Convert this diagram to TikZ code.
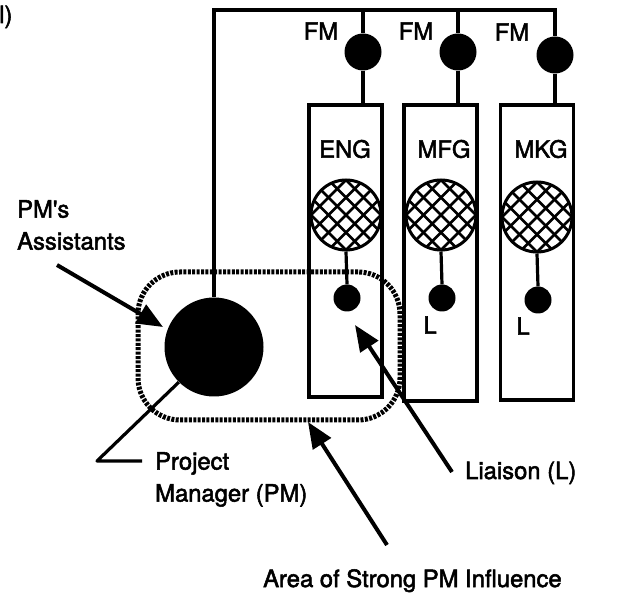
\documentclass[tikz,border=0pt]{standalone}
\usepackage{fontspec}
\setmainfont{TeX Gyre Heros}[FakeBold=2.2, Ligatures=TeXOff]
\usetikzlibrary{arrows.meta,calc}
\begin{document}
\begin{tikzpicture}[x=1pt,y=-1pt,
  lbl/.style={inner sep=0pt, font=\fontsize{23.8}{32}\selectfont},
  ln/.style={line width=3.2pt},
  arr/.style={line width=4pt, -{Triangle[length=26pt,width=21pt]}},
  dept/.style={draw, line width=3.4pt, minimum width=73pt, inner sep=0pt},
  fmdot/.style={circle, fill=black, minimum size=37pt, inner sep=0pt},
  ldot/.style={circle, fill=black, minimum size=27pt, inner sep=0pt},
  pmdot/.style={circle, fill=black, minimum size=99pt, inner sep=0pt},
  hatch/.style={circle, draw, line width=3pt, fill=white, minimum size=70pt, inner sep=0pt,
    path picture={
      \begin{scope}[shift={(path picture bounding box.center)}]
        \foreach \k in {-5,...,5}{
          \draw[line width=2.8pt] (\k*17.5-45,-45) -- ++(90,90);
          \draw[line width=2.8pt] (\k*17.5-45,45) -- ++(90,-90);
        }
      \end{scope}}},
  rope/.style={draw, line width=5pt, dash pattern=on 3pt off 1.4pt, rounded corners=42pt}
]
\useasboundingbox (0,0) rectangle (643,593);

% fragment at top left
\node[lbl, anchor=base west] (frag) at (-1,23) {l)};

% departments
\node[dept, minimum height=292pt] (box1) at (345.5,251) {};
\node[dept, minimum height=296pt] (box2) at (440.5,253) {};
\node[dept, minimum height=295pt] (box3) at (537,252.5) {};

\node[lbl] (eng) at (345,149) {ENG};
\node[lbl] (mfg) at (444,149) {MFG};
\node[lbl] (mkg) at (541,149) {MKG};

% functional managers
\node[fmdot] (fm1) at (363,52) {};
\node[fmdot] (fm2) at (458,52) {};
\node[fmdot] (fm3) at (555,55) {};
\node[lbl] (fml1) at (321,31) {FM};
\node[lbl] (fml2) at (416,31) {FM};
\node[lbl] (fml3) at (512,32) {FM};

% hatched staff circles
\node[hatch] (hc1) at (346,215) {};
\node[hatch] (hc2) at (441,215) {};
\node[hatch] (hc3) at (537,217) {};

% liaison dots
\node[ldot] (l1) at (347,298) {};
\node[ldot] (l2) at (442,298) {};
\node[ldot] (l3) at (538,300) {};
\node[lbl] (ll2) at (430,325) {L};
\node[lbl] (ll3) at (523,326) {L};

\draw[ln] (hc1.south) -- (l1.north);
\draw[ln] (hc2.south) -- (l2.north);
\draw[ln] (hc3.south) -- (l3.north);

% project manager
\node[pmdot] (pm) at (214,347) {};
\coordinate (busR) at (555,10);
\draw[ln] (pm.north) -- (pm.north |- busR) -- (busR) -- (fm3.north);
\draw[ln] (fm1.north |- busR) -- (fm1.north);
\draw[ln] (fm2.north |- busR) -- (fm2.north);
\draw[ln] (fm1.south) -- (fm1.south |- box1.north);
\draw[ln] (fm2.south) -- (fm2.south |- box2.north);
\draw[ln] (fm3.south) -- (fm3.south |- box3.north);

% area of strong PM influence
\node[rope, minimum width=262pt, minimum height=148pt, inner sep=0pt] (area) at (269,346) {};

% labels
\node[lbl, anchor=north west, align=left] (asst) at (17,200) {PM's\\Assistants};
\node[lbl, anchor=north west, align=left] (pml) at (155,452) {Project\\Manager (PM)};
\node[lbl, anchor=base west] (liai) at (465,479) {Liaison (L)};
\node[lbl, anchor=base west] (areal) at (263,587) {Area of Strong PM Influence};

\coordinate (a1s) at (57,265);
\coordinate (a1e) at (163,327);
\draw[arr] (a1s) -- (a1e);

\coordinate (pmk) at (97,461);
\draw[ln, line join=round] (pm.225) -- (pmk) -- ($(pml.west |- pmk)+(-13,0)$);

\coordinate (a2s) at (452,472);
\coordinate (a2e) at (355,325);
\draw[arr] (a2s) -- (a2e);

\coordinate (a3s) at (387,545);
\coordinate (a3e) at (308,422);
\draw[arr] (a3s) -- (a3e);
\end{tikzpicture}
\end{document}
